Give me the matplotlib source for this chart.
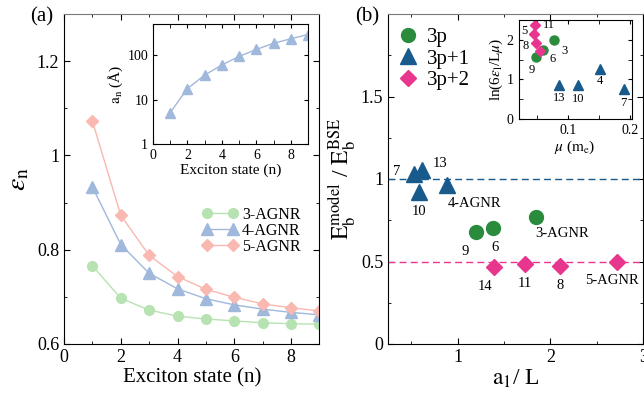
import numpy as np
import matplotlib
matplotlib.use("Agg")
import matplotlib.pyplot as plt
from matplotlib.ticker import MultipleLocator, LogLocator, NullFormatter

plt.rcParams['font.family'] = ['Liberation Serif', 'DejaVu Serif']
plt.rcParams['mathtext.fontset'] = 'stix'

# ---------------- data panel (a) ----------------
n_states = [1, 2, 3, 4, 5, 6, 7, 8, 9]
eps_3agnr = [0.766, 0.697, 0.672, 0.659, 0.653, 0.649, 0.645, 0.643, 0.642]
eps_4agnr = [0.933, 0.811, 0.750, 0.717, 0.696, 0.683, 0.674, 0.667, 0.662]
eps_5agnr = [1.073, 0.873, 0.788, 0.743, 0.716, 0.699, 0.685, 0.677, 0.670]
a_n = [5.1, 17.6, 35.5, 60, 93, 134, 184, 233, 290]

# ---------------- data panel (b) ----------------
x_3p = [1.197, 1.378, 1.841]
y_3p = [0.677, 0.703, 0.771]
lab_3p = ['9', '6', '3-AGNR']
x_3p1 = [0.525, 0.615, 0.579, 0.889]
y_3p1 = [1.028, 1.054, 0.923, 0.962]
lab_3p1 = ['7', '13', '10', '4-AGNR']
x_3p2 = [1.388, 1.723, 2.108, 2.72]
y_3p2 = [0.466, 0.484, 0.474, 0.496]
lab_3p2 = ['14', '11', '8', '5-AGNR']

# inset (b)
mu_3p = [0.0769, 0.0588, 0.048]
ln_3p = [2.0, 1.73, 1.56]
ilab_3p = ['3', '6', '9']
mu_3p1 = [0.086, 0.116, 0.152, 0.19]
ln_3p1 = [0.87, 0.85, 1.27, 0.76]
ilab_3p1 = ['13', '10', '4', '7']
mu_3p2 = [0.0464, 0.0448, 0.0475, 0.054]
ln_3p2 = [2.38, 2.15, 1.92, 1.71]
ilab_3p2 = ['11', '5', '8', '']

c_green_l = '#b7e2b1'
c_blue_l = '#9fb8dc'
c_pink_l = '#f9b8b0'
c_green = '#2a8b3d'
c_blue = '#185a8c'
c_pink = '#e8358d'

W, H = 644, 399
fig = plt.figure(figsize=(W / 100, H / 100), dpi=100)

def px(l, r, t, b):
    return [l / W, 1 - b / H, (r - l) / W, (b - t) / H]

def style(ax, fs):
    ax.tick_params(which='both', direction='in', top=True, right=True, labelsize=fs)
    ax.tick_params(which='major', length=4)
    ax.tick_params(which='minor', length=2.5)
    ax.spines['top'].set_color('#7a7a7a')

# ---------------- panel (a) ----------------
ax1 = fig.add_axes(px(64, 319.5, 14, 344))
ax1.plot(n_states, eps_3agnr, '-o', color=c_green_l, ms=7, lw=1, label='3-AGNR')
ax1.plot(n_states, eps_4agnr, '-^', color=c_blue_l, ms=8, lw=1, label='4-AGNR')
ax1.plot(n_states, eps_5agnr, '-D', color=c_pink_l, ms=6.5, lw=1, label='5-AGNR')
ax1.set_xlim(0, 9)
ax1.set_ylim(0.6, 1.3)
ax1.xaxis.set_major_locator(MultipleLocator(2))
ax1.xaxis.set_minor_locator(MultipleLocator(1))
ax1.yaxis.set_major_locator(MultipleLocator(0.2))
ax1.yaxis.set_minor_locator(MultipleLocator(0.1))
ax1.set_yticks([0.6, 0.8, 1.0, 1.2])
ax1.set_yticklabels(['0.6', '0.8', '1', '1.2'])
style(ax1, 13)
ax1.set_xlabel('Exciton state (n)', fontsize=15, labelpad=2)
ax1.set_ylabel(r'$\epsilon_{\rm n}$', fontsize=20, labelpad=4)
leg = ax1.legend(loc='upper left', bbox_to_anchor=(0.51, 0.44), frameon=False,
                 fontsize=11.5, numpoints=2, handlelength=2.2, handletextpad=0.3,
                 labelspacing=0.0, borderpad=0)
fig.text(30 / W, 1 - 17 / H, '(a)', fontsize=15, ha='left', va='center')

ins1 = fig.add_axes(px(153, 308, 24, 144))
ins1.plot(n_states, a_n, '-^', color=c_blue_l, ms=6.5, lw=1)
ins1.set_yscale('log')
ins1.set_xlim(0, 9)
ins1.set_ylim(1, 500)
ins1.xaxis.set_major_locator(MultipleLocator(2))
ins1.xaxis.set_minor_locator(MultipleLocator(1))
ins1.set_yticks([1, 10, 100])
ins1.set_yticklabels(['1', '10', '100'])
ins1.yaxis.set_minor_locator(LogLocator(base=10, subs=[]))
ins1.tick_params(which='both', direction='in', top=True, right=True, labelsize=10, length=3)
ins1.set_xlabel('Exciton state (n)', fontsize=11, labelpad=1)
ins1.set_ylabel(r'$\rm a_n$ (Å)', fontsize=11, labelpad=2)

# ---------------- panel (b) ----------------
ax2 = fig.add_axes(px(388, 643.3, 14, 344))
ax2.axhline(1.0, color=c_blue, ls='--', lw=1, dashes=(5, 3))
ax2.axhline(0.5, color=c_pink, ls='--', lw=1, dashes=(5, 3))
ax2.plot(x_3p, y_3p, 'o', color=c_green, ms=10, ls='none', label='3p')
ax2.plot(x_3p1, y_3p1, '^', color=c_blue, ms=11, ls='none', label='3p+1')
ax2.plot(x_3p2, y_3p2, 'D', color=c_pink, ms=8.5, ls='none', label='3p+2')
ax2.set_xlim(0.25, 3)
ax2.set_ylim(0, 2)
ax2.xaxis.set_major_locator(MultipleLocator(1))
ax2.xaxis.set_minor_locator(MultipleLocator(0.5))
ax2.yaxis.set_major_locator(MultipleLocator(0.5))
ax2.yaxis.set_minor_locator(MultipleLocator(0.25))
ax2.set_yticks([0, 0.5, 1.0, 1.5])
ax2.set_yticklabels(['0', '0.5', '1', '1.5'])
style(ax2, 13)
ax2.set_xlabel(r'$\rm a_1$/ L', fontsize=17, labelpad=1)
ax2.set_ylabel(r'$\rm E_b^{model}$ / $\rm E_b^{BSE}$', fontsize=17, labelpad=2)

off_3p = [(-8, -14), (2, -14), (0, -12)]
ha_3p = ['center', 'center', 'left']
for x, y, t, o, h in zip(x_3p, y_3p, lab_3p, off_3p, ha_3p):
    ax2.annotate(t, (x, y), xytext=o, textcoords='offset points', fontsize=10.5,
                 ha=h, va='center')
off_3p1 = [(-12, 2), (8, 5), (0, -14), (0, -13)]
ha_3p1 = ['center', 'left', 'center', 'left']
for x, y, t, o, h in zip(x_3p1, y_3p1, lab_3p1, off_3p1, ha_3p1):
    ax2.annotate(t, (x, y), xytext=o, textcoords='offset points', fontsize=10.5,
                 ha=h, va='center')
off_3p2 = [(-6, -14), (0, -14), (0, -14), (-4, -13)]
ha_3p2 = ['center', 'center', 'center', 'center']
for x, y, t, o, h in zip(x_3p2, y_3p2, lab_3p2, off_3p2, ha_3p2):
    ax2.annotate(t, (x, y), xytext=o, textcoords='offset points', fontsize=10.5,
                 ha=h, va='center')

ax2.legend(loc='upper left', bbox_to_anchor=(-0.035, 1.01), frameon=False, fontsize=15,
           numpoints=1, handlelength=1.2, handletextpad=0.3, labelspacing=0.1,
           borderpad=0.3)
fig.text(355 / W, 1 - 17 / H, '(b)', fontsize=15, ha='left', va='center')

ins2 = fig.add_axes(px(518.7, 631.7, 20, 119))
ins2.plot(mu_3p, ln_3p, 'o', color=c_green, ms=6.5, ls='none')
ins2.plot(mu_3p1, ln_3p1, '^', color=c_blue, ms=7, ls='none')
ins2.plot(mu_3p2, ln_3p2, 'D', color=c_pink, ms=5.5, ls='none')
ins2.set_xlim(0.02, 0.203)
ins2.set_ylim(0, 2.5)
ins2.set_xticks([0.1, 0.2])
ins2.set_xticklabels(['0.1', '0.2'])
ins2.xaxis.set_minor_locator(MultipleLocator(0.05))
ins2.set_yticks([0, 1, 2])
ins2.yaxis.set_minor_locator(MultipleLocator(0.5))
ins2.tick_params(which='both', direction='in', top=True, right=True, labelsize=10, length=3)
ins2.set_xlabel(r'$\mu$ ($\rm m_e$)', fontsize=11, labelpad=1)
ins2.set_ylabel(r'ln(6$\epsilon_{\rm l}$/L$\mu$)', fontsize=11, labelpad=1)

ioff_3p = [(8, -8), (7, -6), (-3, -9)]
for x, y, t, o in zip(mu_3p, ln_3p, ilab_3p, ioff_3p):
    ins2.annotate(t, (x, y), xytext=o, textcoords='offset points', fontsize=9,
                  ha='center', va='center')
ioff_3p1 = [(0, -10), (0, -10), (0, -9), (0, -10)]
for x, y, t, o in zip(mu_3p1, ln_3p1, ilab_3p1, ioff_3p1):
    ins2.annotate(t, (x, y), xytext=o, textcoords='offset points', fontsize=9,
                  ha='center', va='center')
ioff_3p2 = [(10, 0), (-7, 2), (-7, -2), (0, 0)]
for x, y, t, o in zip(mu_3p2, ln_3p2, ilab_3p2, ioff_3p2):
    if t:
        ins2.annotate(t, (x, y), xytext=o, textcoords='offset points', fontsize=9,
                      ha='center', va='center')

fig.savefig('out.png', dpi=100)
